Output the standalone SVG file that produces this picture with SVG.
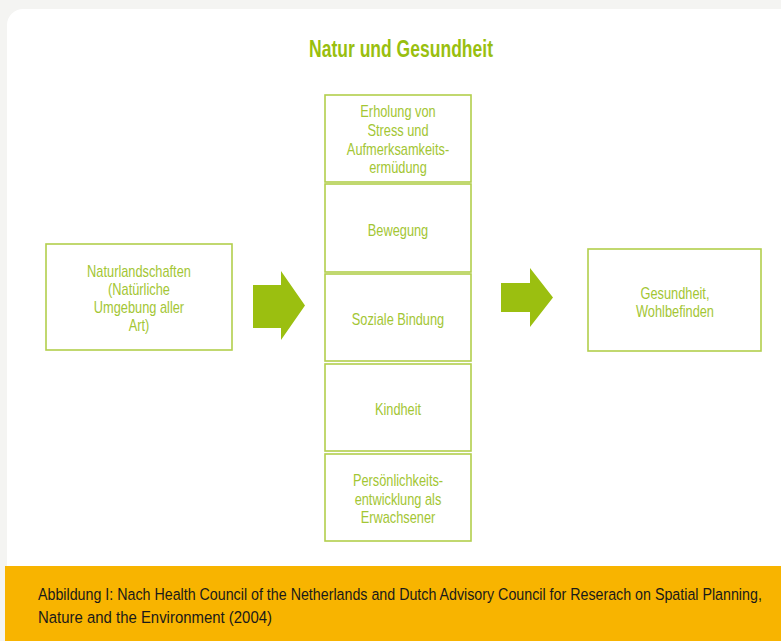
<svg xmlns="http://www.w3.org/2000/svg" width="781" height="641" viewBox="0 0 781 641">
<style>
.box{fill:#ffffff;stroke:#b2cf4c;stroke-width:1.6}
.t{font-family:"Liberation Sans",Arial,sans-serif;font-size:16px;fill:#a3c634;text-anchor:middle}
.arrow{fill:#9bbf10}
</style>
<rect x="0" y="0" width="781" height="641" fill="#f4f4f2"/>
<rect x="7" y="9" width="800" height="700" rx="16" fill="#ffffff"/>
<text x="401" y="57" font-family="'Liberation Sans',Arial,sans-serif" font-weight="bold" font-size="23" fill="#99bf0f" text-anchor="middle" textLength="184" lengthAdjust="spacingAndGlyphs">Natur und Gesundheit</text>
<g id="connectors">
<polygon class="arrow" points="253,285 281,285 281,271 305,305.5 281,340 281,328 253,328"/>
<polygon class="arrow" points="501,283 530,283 530,268 553,297.5 530,327 530,312 501,312"/>
</g>
<g id="node-natur">
<rect class="box" x="46" y="244" width="186" height="106"/>
<g transform="translate(139,0) scale(0.8,1)">
<text class="t" x="0" y="277">Naturlandschaften</text>
<text class="t" x="0" y="295">(Natürliche</text>
<text class="t" x="0" y="313">Umgebung aller</text>
<text class="t" x="0" y="331">Art)</text>
</g>
</g>
<g id="node-erholung">
<rect class="box" x="325" y="95" width="146" height="87"/>
<g transform="translate(398,0) scale(0.8,1)">
<text class="t" x="0" y="117">Erholung von</text>
<text class="t" x="0" y="136">Stress und</text>
<text class="t" x="0" y="155">Aufmerksamkeits-</text>
<text class="t" x="0" y="173">ermüdung</text>
</g>
</g>
<g id="node-bewegung">
<rect class="box" x="325" y="184" width="146" height="88"/>
<g transform="translate(398,0) scale(0.8,1)">
<text class="t" x="0" y="236">Bewegung</text>
</g>
</g>
<g id="node-sozial">
<rect class="box" x="325" y="274" width="146" height="87"/>
<g transform="translate(398,0) scale(0.8,1)">
<text class="t" x="0" y="325">Soziale Bindung</text>
</g>
</g>
<g id="node-kindheit">
<rect class="box" x="325" y="364" width="146" height="87"/>
<g transform="translate(398,0) scale(0.8,1)">
<text class="t" x="0" y="415">Kindheit</text>
</g>
</g>
<g id="node-persoenlichkeit">
<rect class="box" x="325" y="454" width="146" height="87"/>
<g transform="translate(398,0) scale(0.8,1)">
<text class="t" x="0" y="486">Persönlichkeits-</text>
<text class="t" x="0" y="505">entwicklung als</text>
<text class="t" x="0" y="523">Erwachsener</text>
</g>
</g>
<g id="node-gesundheit">
<rect class="box" x="588" y="249" width="173" height="102"/>
<g transform="translate(675,0) scale(0.8,1)">
<text class="t" x="0" y="299">Gesundheit,</text>
<text class="t" x="0" y="317">Wohlbefinden</text>
</g>
</g>
<rect x="5" y="566" width="776" height="75" fill="#f8b400"/>
<g font-family="'Liberation Sans',Arial,sans-serif" font-size="17" fill="#1a1a1a">
<text transform="translate(38,600) scale(0.78,1)" x="0" y="0" textLength="928" lengthAdjust="spacingAndGlyphs">Abbildung I: Nach Health Council of the Netherlands and Dutch Advisory Council for Reserach on Spatial Planning,</text>
<text transform="translate(38,623) scale(0.78,1)" x="0" y="0" textLength="300" lengthAdjust="spacingAndGlyphs">Nature and the Environment (2004)</text>
</g>
</svg>
